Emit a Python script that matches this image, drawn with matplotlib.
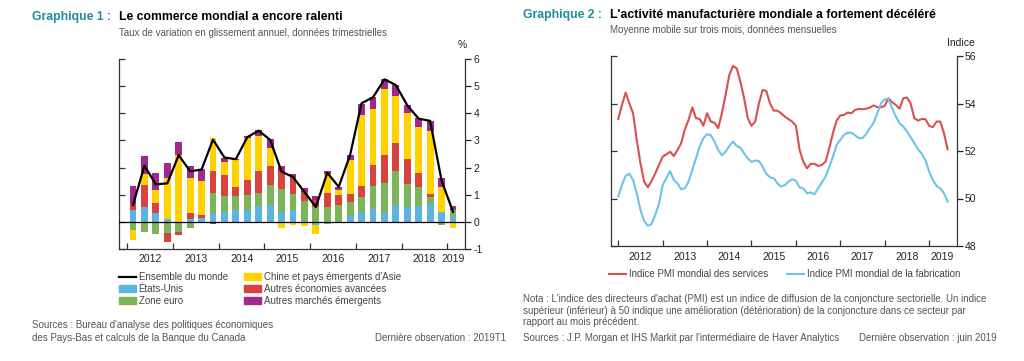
import matplotlib
matplotlib.use("Agg")
import matplotlib.pyplot as plt
import numpy as np
from matplotlib.lines import Line2D
from matplotlib.patches import Patch

plt.rcParams['font.family'] = ['Liberation Sans', 'DejaVu Sans']
plt.rcParams['axes.unicode_minus'] = False

# ---------------- Data: Graphique 1 (quarterly, 2012T1 - 2019T1) ----------------
quarters = [f"{y}T{q}" for y in range(2012, 2019) for q in range(1, 5)] + ["2019T1"]
etats_unis = [0.43, 0.55, 0.34, 0.10, 0.00, 0.09, 0.15, 0.30, 0.37, 0.45, 0.45, 0.59,
              0.62, 0.36, 0.45, 0.00, -0.10, -0.08, 0.02, 0.21, 0.38, 0.47, 0.31, 0.62,
              0.55, 0.58, 0.65, 0.37, 0.18]
zone_euro = [-0.31, -0.37, -0.43, -0.40, -0.37, -0.21, 0.00, 0.75, 0.59, 0.52, 0.55, 0.49,
             0.74, 0.84, 0.59, 0.77, 0.55, 0.53, 0.59, 0.53, 0.54, 0.85, 1.13, 1.27,
             0.86, 0.69, 0.27, -0.10, 0.25]
autres_avancees = [0.21, 0.82, 0.37, -0.36, -0.12, 0.22, 0.12, 0.82, 0.76, 0.32, 0.55, 0.80,
                   0.68, 0.62, 0.58, 0.33, 0.27, 0.54, 0.37, 0.28, 0.39, 0.77, 1.02, 1.03,
                   0.89, 0.54, 0.09, 0.00, 0.00]
chine_asie = [-0.37, 0.41, 0.46, 1.50, 2.45, 1.32, 1.23, 1.23, 0.49, 0.98, 1.54, 1.28,
              0.68, -0.22, -0.12, -0.16, -0.33, 0.69, 0.18, 1.25, 2.64, 2.05, 2.44, 1.73,
              1.72, 1.67, 2.34, 0.92, -0.21]
autres_emergents = [0.68, 0.64, 0.64, 0.58, 0.50, 0.44, 0.43, -0.08, 0.16, 0.06, 0.06, 0.22,
                    0.33, 0.25, 0.14, 0.16, 0.14, 0.12, 0.12, 0.21, 0.41, 0.47, 0.36, 0.39,
                    0.28, 0.33, 0.38, 0.34, 0.16]
ensemble_monde = [0.62, 2.07, 1.38, 1.42, 2.46, 1.86, 1.93, 3.03, 2.37, 2.31, 3.12, 3.36,
                  3.02, 1.85, 1.65, 1.10, 0.55, 1.81, 1.29, 2.47, 4.37, 4.59, 5.25, 5.04,
                  4.29, 3.80, 3.72, 1.52, 0.37]

# ---------------- Data: Graphique 2 (monthly, janv. 2012 - juin 2019) ----------------
pmi_services = [53.35, 53.94, 54.46, 54.00, 53.59, 52.47, 51.48, 50.71, 50.47, 50.74, 51.06, 51.41,
                51.76, 51.86, 51.97, 51.79, 52.04, 52.33, 52.91, 53.31, 53.84, 53.38, 53.35, 53.06,
                53.59, 53.24, 53.19, 52.96, 53.59, 54.36, 55.20, 55.58, 55.48, 54.92, 54.22, 53.38,
                53.06, 53.24, 54.00, 54.57, 54.53, 54.00, 53.70, 53.70, 53.59, 53.45, 53.34, 53.24,
                53.06, 52.04, 51.55, 51.27, 51.46, 51.46, 51.37, 51.41, 51.55, 52.11, 52.75, 53.28,
                53.50, 53.52, 53.62, 53.59, 53.73, 53.77, 53.76, 53.78, 53.83, 53.92, 53.84, 53.84,
                53.90, 54.22, 54.05, 53.94, 53.78, 54.22, 54.25, 54.00, 53.38, 53.28, 53.35, 53.34,
                53.06, 53.00, 53.24, 53.24, 52.75, 52.07]
pmi_fabrication = [50.08, 50.57, 50.95, 51.04, 50.78, 50.22, 49.52, 49.06, 48.85, 48.92, 49.31, 49.77,
                   50.57, 50.85, 51.16, 50.78, 50.64, 50.39, 50.43, 50.71, 51.20, 51.69, 52.19, 52.54,
                   52.70, 52.67, 52.40, 52.04, 51.82, 51.97, 52.21, 52.40, 52.21, 52.14, 51.90, 51.69,
                   51.54, 51.60, 51.58, 51.34, 51.04, 50.89, 50.85, 50.64, 50.50, 50.57, 50.71, 50.81,
                   50.75, 50.46, 50.43, 50.22, 50.25, 50.18, 50.43, 50.67, 50.92, 51.32, 51.76, 52.26,
                   52.47, 52.68, 52.77, 52.77, 52.66, 52.54, 52.54, 52.72, 52.96, 53.19, 53.59, 54.01,
                   54.18, 54.19, 53.80, 53.45, 53.17, 53.03, 52.82, 52.58, 52.33, 52.07, 51.88, 51.62,
                   51.13, 50.78, 50.53, 50.43, 50.22, 49.87]

years_1 = ["2012", "2013", "2014", "2015", "2016", "2017", "2018", "2019"]
years_2 = ["2012", "2013", "2014", "2015", "2016", "2017", "2018", "2019"]

# colours
C_US, C_EU, C_AV, C_ASIA, C_EM = "#5BB4E1", "#7CB45A", "#D8433F", "#FFD200", "#A2288E"
C_RED, C_BLUE = "#D9504E", "#6EC3E7"
TEAL = "#1E8C99"
GREY = "#555555"
DARK = "#222222"
FS_SMALL = 7.05
FS_TITLE = 8.8
FS_TICK = 7.5

fig = plt.figure(figsize=(10.24, 3.61), dpi=100)
W, H = 1024, 361

def fx(px):
    return px / W

def fy(py):
    return 1 - py / H

# ================= Graphique 1 =================
ax1 = fig.add_axes([fx(119.3), fy(249), fx(465 - 119.3), (249 - 59) / H])
x = np.arange(len(quarters))
series = [(etats_unis, C_US), (zone_euro, C_EU), (autres_avancees, C_AV),
          (chine_asie, C_ASIA), (autres_emergents, C_EM)]
pos_base = np.zeros(len(x))
neg_base = np.zeros(len(x))
bw = 0.6
for vals, col in series:
    v = np.array(vals, dtype=float)
    pos = np.where(v > 0, v, 0)
    neg = np.where(v < 0, v, 0)
    ax1.bar(x, pos, bw, bottom=pos_base, color=col, linewidth=0, zorder=2)
    ax1.bar(x, neg, bw, bottom=neg_base, color=col, linewidth=0, zorder=2)
    pos_base += pos
    neg_base += neg
ax1.plot(x, ensemble_monde, color="black", lw=1.6, zorder=4)
ax1.axhline(0, color="black", lw=0.9, zorder=3)

ax1.set_xlim(-1.2, 29.05)
ax1.set_ylim(-1, 6)
ax1.spines['top'].set_visible(False)
for s in ['left', 'right', 'bottom']:
    ax1.spines[s].set_color("#333333")
    ax1.spines[s].set_linewidth(0.9)

boundaries1 = np.arange(-0.5, 28.6, 4)
ax1.set_xticks(boundaries1)
ax1.set_xticklabels([])
ax1.tick_params(axis='x', direction='in', length=4, width=0.9, color="#333333")
label_pos1 = [1.5 + 4 * k for k in range(7)] + [28]
for lp, lab in zip(label_pos1, years_1):
    ax1.text(lp, -1.17, lab, ha='center', va='top', fontsize=FS_TICK, color=DARK)

ax1.set_yticks(range(-1, 7))
ax1.tick_params(axis='y', left=True, right=False, labelleft=False, direction='in',
                length=4, width=0.9, color="#333333")
sec1 = ax1.secondary_yaxis('right')
sec1.set_yticks(range(-1, 7))
sec1.tick_params(axis='y', direction='out', length=4, width=0.9, labelsize=FS_TICK,
                 colors=DARK, pad=2)
sec1.spines['right'].set_color("#333333")
sec1.spines['right'].set_linewidth(0.9)
ax1.spines['right'].set_visible(False)

fig.text(fx(467), fy(45), "%", ha='right', va='center', fontsize=FS_TICK, color=DARK)
fig.text(fx(32), fy(17), "Graphique 1 :", ha='left', va='center', fontsize=FS_TITLE,
         fontweight='bold', color=TEAL)
fig.text(fx(119), fy(17), "Le commerce mondial a encore ralenti", ha='left', va='center',
         fontsize=FS_TITLE, fontweight='bold', color="black")
fig.text(fx(119), fy(33), "Taux de variation en glissement annuel, données trimestrielles",
         ha='left', va='center', fontsize=FS_SMALL, color=GREY)

handles1 = [Line2D([0], [0], color="black", lw=1.6),
            Patch(color=C_US), Patch(color=C_EU),
            Patch(color=C_ASIA), Patch(color=C_AV), Patch(color=C_EM)]
labels1 = ["Ensemble du monde", "États-Unis", "Zone euro",
           "Chine et pays émergents d'Asie", "Autres économies avancées",
           "Autres marchés émergents"]
fig.legend(handles1, labels1, ncol=2, loc='upper left',
           bbox_to_anchor=(fx(119), fy(272)), frameon=False, fontsize=FS_SMALL,
           handlelength=1.7, handleheight=0.7, handletextpad=0.3, labelspacing=0.22,
           columnspacing=1.7, borderpad=0, borderaxespad=0, labelcolor="#444444")

fig.text(fx(32), fy(325), "Sources : Bureau d'analyse des politiques économiques",
         ha='left', va='center', fontsize=FS_SMALL, color=GREY)
fig.text(fx(32), fy(338), "des Pays-Bas et calculs de la Banque du Canada",
         ha='left', va='center', fontsize=FS_SMALL, color=GREY)
fig.text(fx(506), fy(338), "Dernière observation : 2019T1",
         ha='right', va='center', fontsize=FS_SMALL, color=GREY)

# ================= Graphique 2 =================
ax2 = fig.add_axes([fx(610.7), fy(246), fx(956.7 - 610.7), (246 - 56) / H])
t = 2012 + np.arange(len(pmi_services)) / 12.0
ax2.plot(t, pmi_services, color=C_RED, lw=1.5)
ax2.plot(t, pmi_fabrication, color=C_BLUE, lw=1.5)
ax2.set_xlim(2011.83, 2019.62)
ax2.set_ylim(48, 56)
ax2.spines['top'].set_visible(False)
for s in ['left', 'right', 'bottom']:
    ax2.spines[s].set_color("#333333")
    ax2.spines[s].set_linewidth(0.9)
ax2.set_xticks(range(2012, 2020))
ax2.set_xticklabels([])
ax2.tick_params(axis='x', direction='in', length=4, width=0.9, color="#333333")
label_pos2 = [2012.5 + k for k in range(7)] + [2019.3]
for lp, lab in zip(label_pos2, years_2):
    ax2.text(lp, 47.76, lab, ha='center', va='top', fontsize=FS_TICK, color=DARK)

ax2.set_yticks(range(48, 57, 2))
ax2.tick_params(axis='y', left=True, right=False, labelleft=False, direction='in',
                length=4, width=0.9, color="#333333")
sec2 = ax2.secondary_yaxis('right')
sec2.set_yticks(range(48, 57, 2))
sec2.tick_params(axis='y', direction='out', length=4, width=0.9, labelsize=FS_TICK,
                 colors=DARK, pad=2)
sec2.spines['right'].set_color("#333333")
sec2.spines['right'].set_linewidth(0.9)
ax2.spines['right'].set_visible(False)

fig.text(fx(961), fy(43), "Indice", ha='center', va='center', fontsize=FS_TICK, color=DARK)
fig.text(fx(523), fy(15), "Graphique 2 :", ha='left', va='center', fontsize=FS_TITLE,
         fontweight='bold', color=TEAL)
fig.text(fx(610), fy(15), "L'activité manufacturière mondiale a fortement décéléré",
         ha='left', va='center', fontsize=FS_TITLE, fontweight='bold', color="black")
fig.text(fx(610), fy(30), "Moyenne mobile sur trois mois, données mensuelles",
         ha='left', va='center', fontsize=FS_SMALL, color=GREY)

handles2 = [Line2D([0], [0], color=C_RED, lw=1.5), Line2D([0], [0], color=C_BLUE, lw=1.5)]
labels2 = ["Indice PMI mondial des services", "Indice PMI mondial de la fabrication"]
fig.legend(handles2, labels2, ncol=2, loc='upper left',
           bbox_to_anchor=(fx(609), fy(269)), frameon=False, fontsize=FS_SMALL,
           handlelength=1.7, handletextpad=0.3, columnspacing=2.0,
           borderpad=0, borderaxespad=0, labelcolor="#444444")

nota_lines = ["Nota : L'indice des directeurs d'achat (PMI) est un indice de diffusion de la conjoncture sectorielle. Un indice",
              "supérieur (inférieur) à 50 indique une amélioration (détérioration) de la conjoncture dans ce secteur par",
              "rapport au mois précédent."]
for i, line in enumerate(nota_lines):
    fig.text(fx(523), fy(299 + 11.7 * i), line, ha='left', va='center',
             fontsize=FS_SMALL, color=GREY)
fig.text(fx(523), fy(338), "Sources : J.P. Morgan et IHS Markit par l'intermédiaire de Haver Analytics",
         ha='left', va='center', fontsize=FS_SMALL, color=GREY)
fig.text(fx(997), fy(338), "Dernière observation : juin 2019",
         ha='right', va='center', fontsize=FS_SMALL, color=GREY)

fig.savefig("out.png", dpi=100)
